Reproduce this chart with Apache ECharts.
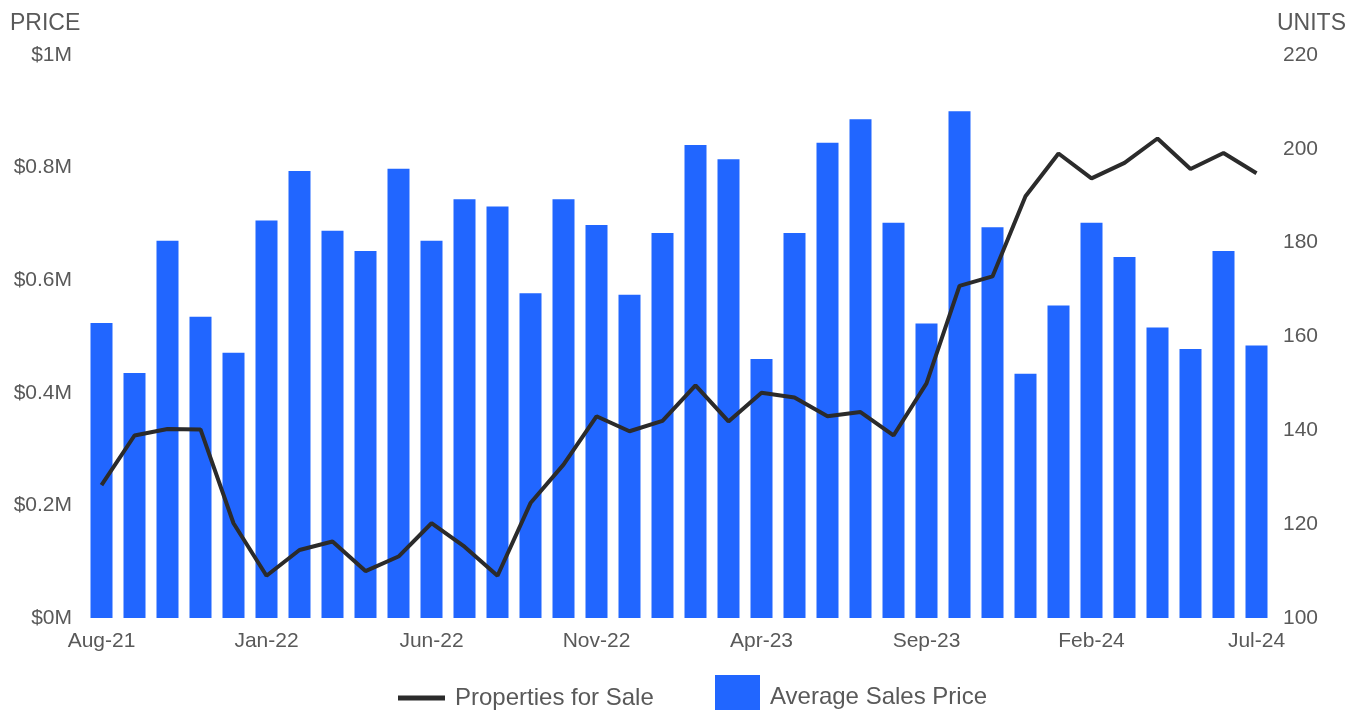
<!DOCTYPE html>
<html>
<head>
    <title>Average Sales Price vs Properties for Sale</title>
    <meta charset="utf-8" />
    <script src="https://cdn.jsdelivr.net/npm/echarts@6/dist/echarts.min.js"></script>
    <style type="text/css">
        html,
        body {
            width: 100%;
            height: 100%;
            margin: 0;
            background: #fff;
        }

        #main {
            width: 1362px;
            height: 710px;
        }
    </style>
</head>

<body>
    <div id="main"></div>
    <script>
        // months Aug-21 .. Jul-24
        var months = ['Aug-21', 'Sep-21', 'Oct-21', 'Nov-21', 'Dec-21', 'Jan-22', 'Feb-22', 'Mar-22', 'Apr-22',
            'May-22', 'Jun-22', 'Jul-22', 'Aug-22', 'Sep-22', 'Oct-22', 'Nov-22', 'Dec-22', 'Jan-23', 'Feb-23',
            'Mar-23', 'Apr-23', 'May-23', 'Jun-23', 'Jul-23', 'Aug-23', 'Sep-23', 'Oct-23', 'Nov-23', 'Dec-23',
            'Jan-24', 'Feb-24', 'Mar-24', 'Apr-24', 'May-24', 'Jun-24', 'Jul-24'];

        // average sales price ($)
        var avgPrice = [524000, 435000, 670000, 535000, 471000, 706000, 794000, 688000, 652000, 798000,
            670000, 744000, 731000, 577000, 744000, 698000, 574000, 684000, 840000, 815000,
            460000, 684000, 844000, 886000, 702000, 523000, 900000, 694000, 434000, 555000,
            702000, 641000, 516000, 478000, 652000, 484000];

        // properties for sale (units)
        var forSale = [128.3, 138.9, 140.3, 140.2, 120.2, 109.0, 114.5, 116.3, 110.0, 113.1,
            120.2, 115.2, 109.0, 124.5, 132.7, 143.0, 139.8, 142.0, 149.6, 141.9,
            148.0, 147.0, 143.0, 143.9, 138.9, 150.0, 170.8, 172.8, 189.9, 199.0,
            193.7, 197.0, 202.2, 195.7, 199.1, 194.8];

        var textColor = '#595959';
        var barColor = '#2166ff';
        var lineColor = '#2b2b2b';

        var myChart = echarts.init(document.getElementById('main'));

        var option = {
            animation: false,
            grid: {
                left: 85,
                right: 89,
                top: 55,
                bottom: 92
            },
            graphic: [{
                type: 'text',
                left: 10,
                top: 12,
                style: { text: 'PRICE', fill: textColor, font: '23px "Liberation Sans", Arial, sans-serif' }
            }, {
                type: 'text',
                left: 1277,
                top: 12,
                style: { text: 'UNITS', fill: textColor, font: '23px "Liberation Sans", Arial, sans-serif' }
            }],
            legend: [{
                data: ['Properties for Sale'],
                left: 393,
                top: 681,
                itemWidth: 47,
                itemHeight: 5,
                icon: 'rect',
                textStyle: { color: textColor, fontSize: 24, fontFamily: 'Liberation Sans', padding: [0, 0, 0, 5] }
            }, {
                data: ['Average Sales Price'],
                left: 710,
                top: 670,
                itemWidth: 45,
                itemHeight: 45,
                icon: 'rect',
                textStyle: { color: textColor, fontSize: 24, fontFamily: 'Liberation Sans', padding: [0, 0, 0, 5] }
            }],
            xAxis: {
                type: 'category',
                data: months,
                axisLine: { show: false },
                axisTick: { show: false },
                axisLabel: {
                    interval: 4,
                    margin: 13,
                    color: textColor,
                    fontSize: 21,
                    fontFamily: 'Liberation Sans'
                }
            },
            yAxis: [{
                type: 'value',
                min: 0,
                max: 1000000,
                interval: 200000,
                splitLine: { show: false },
                axisLine: { show: false },
                axisTick: { show: false },
                axisLabel: {
                    margin: 13,
                    color: textColor,
                    fontSize: 21,
                    fontFamily: 'Liberation Sans',
                    formatter: function (v) {
                        return '$' + (v / 1000000) + 'M';
                    }
                }
            }, {
                type: 'value',
                min: 100,
                max: 220,
                interval: 20,
                splitLine: { show: false },
                axisLine: { show: false },
                axisTick: { show: false },
                axisLabel: {
                    margin: 10,
                    color: textColor,
                    fontSize: 21,
                    fontFamily: 'Liberation Sans'
                }
            }],
            series: [{
                name: 'Average Sales Price',
                type: 'bar',
                data: avgPrice,
                barWidth: 22,
                itemStyle: { color: barColor },
                z: 1
            }, {
                name: 'Properties for Sale',
                type: 'line',
                yAxisIndex: 1,
                data: forSale,
                showSymbol: false,
                symbol: 'none',
                lineStyle: { color: lineColor, width: 4 },
                itemStyle: { color: lineColor },
                z: 3
            }]
        };

        myChart.setOption(option);
    </script>
</body>
</html>
